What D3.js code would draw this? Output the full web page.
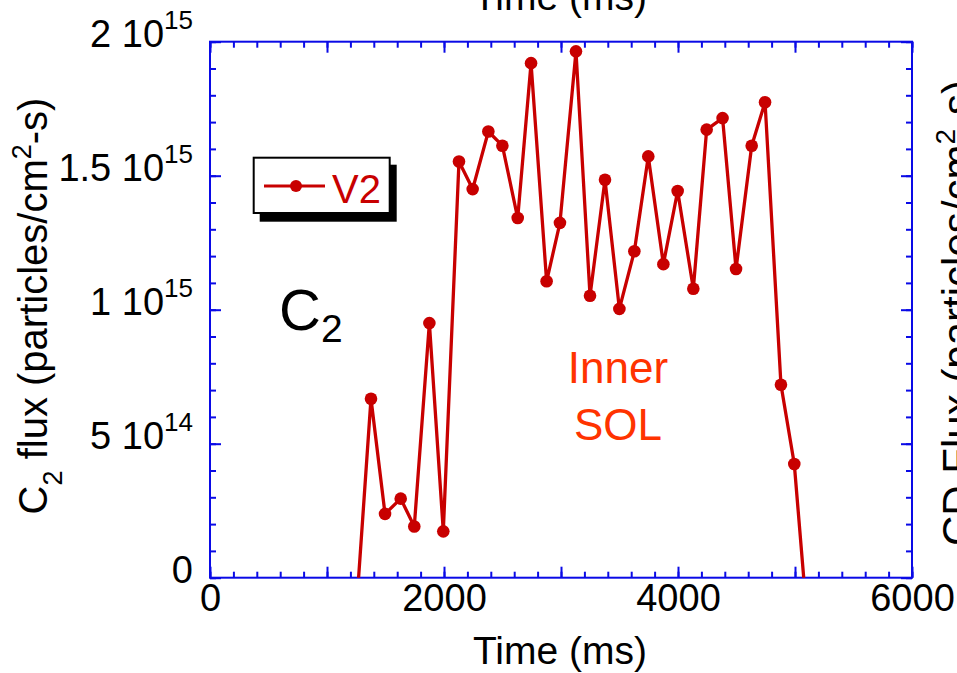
<!DOCTYPE html>
<html>
<head>
<meta charset="utf-8">
<script src="https://cdn.jsdelivr.net/npm/d3@7"></script>
<style>
  html, body { margin: 0; padding: 0; background: #fff; }
  svg { display: block; font-family: "Liberation Sans", Arial, Helvetica, sans-serif; }
</style>
</head>
<body>
<svg id="chart" width="957" height="673"></svg>
<script>
// C2 flux time trace, inner SOL, view V2
const timeMs = [1251, 1376, 1496, 1630, 1746, 1875, 1994, 2128, 2245, 2379, 2499, 2630, 2744, 2877, 2991,
                3128, 3248, 3376, 3499, 3627, 3746, 3875, 3997, 4131, 4245, 4381, 4496, 4630, 4744,
                4880, 4994, 5120];
const fluxV2 = [-0.12e15, 0.668e15, 0.238e15, 0.295e15, 0.191e15, 0.950e15, 0.173e15, 1.553e15, 1.450e15,
                1.665e15, 1.612e15, 1.342e15, 1.920e15, 1.106e15, 1.324e15, 1.964e15, 1.052e15, 1.485e15,
                1.003e15, 1.218e15, 1.572e15, 1.170e15, 1.443e15, 1.078e15, 1.672e15, 1.715e15, 1.152e15,
                1.612e15, 1.774e15, 0.720e15, 0.424e15, -0.24e15];

const xMinorTicks = d3.range(0, 6001, 200);
const xMajorTicks = [0, 1000, 2000, 3000, 4000, 5000, 6000];
const xLabelTicks = [0, 2000, 4000, 6000];
const yMinorTicks = d3.range(0, 21).map(i => i * 1e14);
const yMajorTicks = [0, 5e14, 1e15, 1.5e15, 2e15];
const yTickMantissa = ["0", "5 10", "1 10", "1.5 10", "2 10"];
const yTickExponent = ["", "14", "15", "15", "15"];

const seriesName = "V2";
const lineColor = "#c80000";
const axisColor = "#0a0ae6";
const noteColor = "#ff3300";

const svg = d3.select("#chart");
const plotL = 210, plotR = 912, plotT = 41.7, plotB = 577.7;

const x = d3.scaleLinear().domain([0, 6000]).range([plotL, plotR]);
const y = d3.scaleLinear().domain([0, 2e15]).range([plotB, plotT]);

// clip region for the data
svg.append("defs").append("clipPath").attr("id", "plotClip")
  .append("rect").attr("x", plotL).attr("y", plotT)
  .attr("width", plotR - plotL).attr("height", plotB - plotT);

function styleAxis(g) {
  g.select(".domain").remove();
  g.selectAll(".tick line").attr("stroke", axisColor).attr("stroke-width", 2);
}

// bottom axis: minor + major ticks pointing inward, labels every 2000
svg.append("g").attr("transform", `translate(0,${plotB})`)
  .call(d3.axisBottom(x).tickValues(xMinorTicks).tickSize(-6).tickFormat(""))
  .call(styleAxis);
const xb = svg.append("g").attr("transform", `translate(0,${plotB})`)
  .call(d3.axisBottom(x).tickValues(xMajorTicks).tickSize(-11)
    .tickFormat(d => xLabelTicks.includes(d) ? String(d) : ""))
  .call(styleAxis);
xb.selectAll(".tick text")
  .attr("y", 33).attr("dy", 0)
  .attr("font-size", 38).attr("fill", "#000")
  .attr("font-family", "'Liberation Sans', Arial, sans-serif");

// top axis (mirrored ticks, no labels)
svg.append("g").attr("transform", `translate(0,${plotT})`)
  .call(d3.axisTop(x).tickValues(xMinorTicks).tickSize(-6).tickFormat(""))
  .call(styleAxis);
svg.append("g").attr("transform", `translate(0,${plotT})`)
  .call(d3.axisTop(x).tickValues(xMajorTicks).tickSize(-11).tickFormat(""))
  .call(styleAxis);

// left axis
svg.append("g").attr("transform", `translate(${plotL},0)`)
  .call(d3.axisLeft(y).tickValues(yMinorTicks).tickSize(-6).tickFormat(""))
  .call(styleAxis);
const yl = svg.append("g").attr("transform", `translate(${plotL},0)`)
  .call(d3.axisLeft(y).tickValues(yMajorTicks).tickSize(-11).tickFormat(""))
  .call(styleAxis);
yl.selectAll(".tick text").each(function(d, i) {
  const t = d3.select(this);
  t.text(null)
    .attr("x", 193 - plotL).attr("y", 5).attr("dy", 0)
    .attr("text-anchor", "end").attr("fill", "#000")
    .attr("font-family", "'Liberation Sans', Arial, sans-serif");
  t.append("tspan").attr("font-size", 38).text(yTickMantissa[i]);
  if (yTickExponent[i]) {
    t.append("tspan").attr("font-size", 26).attr("dy", -18).text(yTickExponent[i]);
  }
});

// right axis (mirrored ticks)
svg.append("g").attr("transform", `translate(${plotR},0)`)
  .call(d3.axisRight(y).tickValues(yMinorTicks).tickSize(-6).tickFormat(""))
  .call(styleAxis);
svg.append("g").attr("transform", `translate(${plotR},0)`)
  .call(d3.axisRight(y).tickValues(yMajorTicks).tickSize(-11).tickFormat(""))
  .call(styleAxis);

// frame
svg.append("rect").attr("x", plotL).attr("y", plotT)
  .attr("width", plotR - plotL).attr("height", plotB - plotT)
  .attr("fill", "none").attr("stroke", axisColor).attr("stroke-width", 2);

// data line and markers
const pts = timeMs.map((t, i) => ({ t, v: fluxV2[i] }));
const plot = svg.append("g").attr("clip-path", "url(#plotClip)");
plot.append("path").datum(pts)
  .attr("fill", "none").attr("stroke", lineColor).attr("stroke-width", 3.3)
  .attr("stroke-linejoin", "round")
  .attr("d", d3.line().x(d => x(d.t)).y(d => y(d.v)));
plot.selectAll("circle").data(pts).join("circle")
  .attr("cx", d => x(d.t)).attr("cy", d => y(d.v)).attr("r", 6.3)
  .attr("fill", lineColor);

// axis titles
svg.append("text").attr("x", 560).attr("y", 664).attr("text-anchor", "middle")
  .attr("font-size", 39).text("Time (ms)");
svg.append("text").attr("x", 560).attr("y", 10).attr("text-anchor", "middle")
  .attr("font-size", 39).text("Time (ms)");

const yTitle = svg.append("text")
  .attr("transform", "translate(47,306) rotate(-90)")
  .attr("text-anchor", "middle").attr("font-size", 40);
yTitle.append("tspan").text("C");
yTitle.append("tspan").attr("font-size", 27).attr("dy", 15).text("2");
yTitle.append("tspan").attr("dy", -15).text(" flux (particles/cm");
yTitle.append("tspan").attr("font-size", 27).attr("dy", -16).text("2");
yTitle.append("tspan").attr("dy", 16).text("-s)");

const y2Title = svg.append("text")
  .attr("transform", "translate(972,313) rotate(-90)")
  .attr("text-anchor", "middle").attr("font-size", 42);
y2Title.append("tspan").text("CD Flux (particles/cm");
y2Title.append("tspan").attr("font-size", 28).attr("dy", -17).text("2");
y2Title.append("tspan").attr("dy", 17).text("-s)");

// legend with drop shadow
const lg = svg.append("g");
lg.append("rect").attr("x", 259.7).attr("y", 164.7).attr("width", 137).attr("height", 57).attr("fill", "#000");
lg.append("rect").attr("x", 253.7).attr("y", 157.7).attr("width", 136).attr("height", 55.3)
  .attr("fill", "#fff").attr("stroke", "#000").attr("stroke-width", 2);
lg.append("line").attr("x1", 264).attr("x2", 325).attr("y1", 186).attr("y2", 186)
  .attr("stroke", lineColor).attr("stroke-width", 3);
lg.append("circle").attr("cx", 296).attr("cy", 186).attr("r", 6).attr("fill", lineColor);
lg.append("text").attr("x", 332).attr("y", 202.7).attr("font-size", 40)
  .attr("fill", lineColor).text(seriesName);

// species label
const sp = svg.append("text").attr("x", 279).attr("y", 330).attr("font-size", 58);
sp.append("tspan").text("C");
sp.append("tspan").attr("font-size", 39).attr("dy", 12).text("2");

// region note
svg.append("text").attr("x", 618).attr("y", 383).attr("text-anchor", "middle")
  .attr("font-size", 44).attr("fill", noteColor).text("Inner");
svg.append("text").attr("x", 618).attr("y", 440).attr("text-anchor", "middle")
  .attr("font-size", 44).attr("fill", noteColor).text("SOL");
</script>
</body>
</html>
